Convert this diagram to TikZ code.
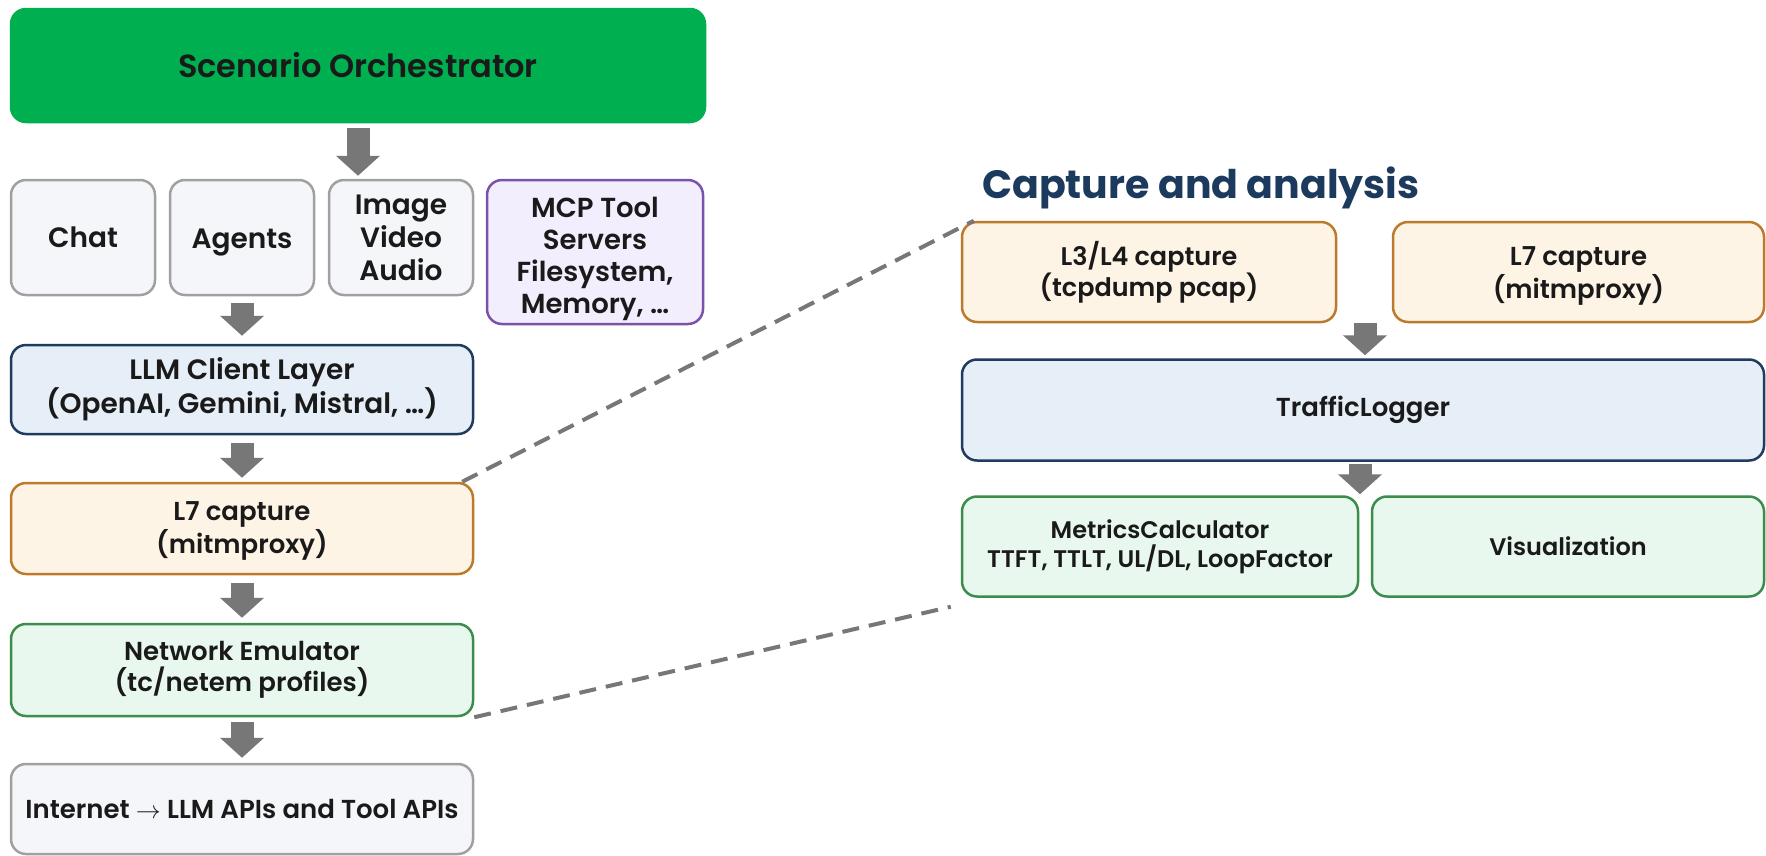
\documentclass[tikz,border=0pt]{standalone}
\usepackage{fontspec}
\usetikzlibrary{arrows.meta}
\newfontfamily\popsb{Poppins SemiBold}
\newfontfamily\popb{Poppins Bold}

% lower a centred block of lines without changing its declared size
\newcommand\dropby[2]{\raisebox{-#1}[\height][\depth]{\begin{tabular}{@{}c@{}}#2\end{tabular}}}

\definecolor{txt}{HTML}{1A1A1A}
\definecolor{orchgreen}{HTML}{00AF50}
\definecolor{greyfill}{HTML}{F5F6FA}
\definecolor{greyline}{HTML}{A0A0A0}
\definecolor{purplefill}{HTML}{F3EEFD}
\definecolor{purpleline}{HTML}{7B52AB}
\definecolor{bluefill}{HTML}{E6EEF8}
\definecolor{blueline}{HTML}{1F3B5F}
\definecolor{orangefill}{HTML}{FEF4E5}
\definecolor{orangeline}{HTML}{BC7A2B}
\definecolor{greenfill}{HTML}{E9F8EF}
\definecolor{greenline}{HTML}{3B8D4B}
\definecolor{titlecol}{HTML}{1B3A5E}
\definecolor{arrowgrey}{HTML}{777777}

\tikzset{
  box/.style={draw, rounded corners=15pt, line width=2.5pt, inner sep=0pt,
    align=center, text=txt, font=\popsb\fontsize{26}{31}\selectfont},
  large/.style={font=\popsb\fontsize{28}{33}\selectfont},
  small/.style={font=\popsb\fontsize{24}{29}\selectfont},
  greybox/.style={box, fill=greyfill, draw=greyline},
  purplebox/.style={box, fill=purplefill, draw=purpleline},
  bluebox/.style={box, fill=bluefill, draw=blueline},
  orangebox/.style={box, fill=orangefill, draw=orangeline},
  greenbox/.style={box, fill=greenfill, draw=greenline},
  blockarrow/.style={draw=arrowgrey, line width=23pt,
    -{Triangle[length=20pt,width=43pt]}},
  dashline/.style={draw=arrowgrey, line width=4pt, dash pattern=on 17pt off 10pt},
}

\begin{document}
\begin{tikzpicture}[x=1pt,y=-1pt]
\fill[white] (0,0) rectangle (1766,855);
\useasboundingbox (0,0) rectangle (1766,855);

% left column: scenario stack
\node[box, fill=orchgreen, draw=orchgreen, font=\popsb\fontsize{32}{38}\selectfont,
  minimum width=694pt, minimum height=113pt] (orch) at (358,65.5) {Scenario Orchestrator};

\node[greybox, large, minimum width=144pt, minimum height=115pt] (chat) at (83,237.5) {Chat};
\node[greybox, large, minimum width=144pt, minimum height=115pt] (agents) at (242,237.5)
  {\dropby{4pt}{Agents}};
\node[greybox, large, minimum width=144pt, minimum height=115pt] (media) at (401,237.5) {Image\\Video\\Audio};
\node[purplebox, minimum width=216pt, minimum height=144pt,
  font=\popsb\fontsize{27.5}{32}\selectfont] (mcp) at (595,252)
  {\dropby{7pt}{MCP Tool\\Servers\\Filesystem,\\Memory, …}};

\node[bluebox, large, minimum width=462pt, minimum height=89pt] (llm) at (242,389.5)
  {LLM Client Layer\\(OpenAI, Gemini, Mistral, …)};
\node[orangebox, minimum width=462pt, minimum height=91pt] (l7a) at (242,528.5)
  {\dropby{2.5pt}{L7 capture\\(mitmproxy)}};
\node[greenbox, minimum width=462pt, minimum height=92pt] (netem) at (242,670)
  {Network Emulator\\(tc/netem profiles)};
\node[greybox, minimum width=462pt, minimum height=90pt] (inet) at (242,809)
  {Internet $\rightarrow$ LLM APIs and Tool APIs};

% right column: capture and analysis
\node[anchor=west, inner sep=0pt, text=titlecol, font=\popb\fontsize{39.5}{45}\selectfont]
  (title) at (982,188) {Capture and analysis};

\node[orangebox, minimum width=374pt, minimum height=100pt,
  font=\popsb\fontsize{25.5}{31}\selectfont] (l3l4) at (1149,272)
  {L3/L4 capture\\(tcpdump pcap)};
\node[orangebox, minimum width=371pt, minimum height=100pt] (l7b) at (1578.5,272)
  {\dropby{3.5pt}{L7 capture\\(mitmproxy)}};
\node[bluebox, minimum width=802pt, minimum height=101pt] (logger) at (1363,410)
  {TrafficLogger};
\node[greenbox, small, minimum width=396pt, minimum height=100pt] (metrics) at (1160,546.5)
  {MetricsCalculator\\TTFT, TTLT, UL/DL, LoopFactor};
\node[greenbox, small, minimum width=392pt, minimum height=100pt] (viz) at (1568,546.5)
  {Visualization};

% flow arrows
\draw[blockarrow] ([yshift=-5pt]orch.south) -- ([yshift=3pt]orch.south |- media.north);
\draw[blockarrow] ([yshift=-7pt]agents.south) -- ([yshift=8pt]llm.north);
\draw[blockarrow] ([yshift=-8pt]llm.south) -- ([yshift=4pt]l7a.north);
\draw[blockarrow] ([yshift=-8pt]l7a.south) -- ([yshift=5pt]netem.north);
\draw[blockarrow] ([yshift=-5pt]netem.south) -- ([yshift=5pt]inet.north);
\draw[blockarrow] ([xshift=2pt]logger.north |- l3l4.south) -- ([xshift=2pt,yshift=3pt]logger.north);
\draw[blockarrow] ([xshift=-3pt,yshift=-2pt]logger.south) -- ([xshift=-3pt,yshift=1pt]logger.south |- metrics.north);

% links from the stack to the analysis side
\draw[dashline] ([xshift=-12pt]l7a.north east) -- ([xshift=13pt]l3l4.north west);
\draw[dashline] (netem.south east) -- ([xshift=-10pt,yshift=-9pt]metrics.south west);
\end{tikzpicture}
\end{document}
